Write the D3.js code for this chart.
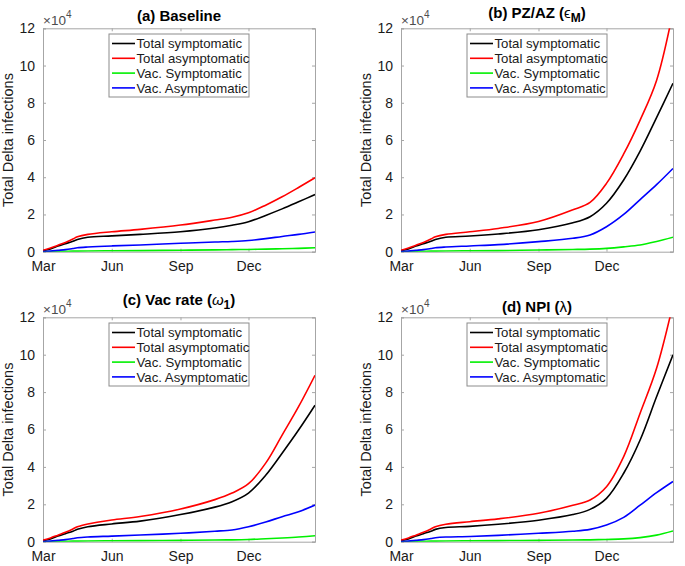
<!DOCTYPE html>
<html>
<head>
<meta charset="utf-8">
<script src="https://cdn.jsdelivr.net/npm/d3@7"></script>
<style>
  html, body { margin: 0; padding: 0; background: #fff; }
  svg { display: block; font-family: "Liberation Sans", Arial, Helvetica, sans-serif; }
</style>
</head>
<body>
<svg id="chart" width="685" height="566"></svg>
<script>
// ---------- DATA ----------
const dates = ["2021-03-01","2021-03-11","2021-03-21","2021-03-31","2021-04-10","2021-04-16",
  "2021-04-30","2021-06-01","2021-07-09","2021-09-01","2021-10-17","2021-11-09",
  "2021-12-01","2021-12-24","2022-01-15","2022-02-06","2022-02-28"];

const seriesNames = ["Total symptomatic","Total asymptomatic","Vac. Symptomatic","Vac. Asymptomatic"];
const seriesColors = ["#000000","#ff0000","#00f000","#0000ff"];

const panelTitles = ["(a) Baseline","(b) PZ/AZ","(c) Vac rate","(d) NPI"];

const xTickLabels = ["Mar","Jun","Sep","Dec"];
const xTickDates = ["2021-03-01","2021-06-01","2021-09-01","2021-12-01"];
const yTicks = [0, 20000, 40000, 60000, 80000, 100000, 120000];

// (a) Baseline
const aSym     = [500,1500,3000,4300,5600,6600,7800,8500,9300,10700,12700,14200,16100,19500,23000,26800,30700];
const aAsym    = [800,2000,3500,5000,6800,8000,9300,10700,12000,14300,17000,18500,20900,25000,29500,34500,39700];
const aVacSym  = [0,100,100,200,300,300,400,500,600,800,1000,1100,1200,1400,1600,1800,2100];
const aVacAsym = [100,300,700,1100,1700,2100,2500,3100,3600,4500,5200,5500,6000,7000,8200,9300,10600];

// (b) PZ/AZ
const bSym     = [500,1500,3000,4300,5600,6600,7800,8400,9500,11800,15500,18800,26000,38500,54000,72000,90500];
const bAsym    = [800,2000,3500,5000,6800,8000,9300,10700,12500,16200,22500,26500,36700,52500,70700,92000,129000];
const bVacSym  = [0,100,100,200,300,300,400,500,600,900,1200,1400,1800,2600,3600,5500,7800];
const bVacAsym = [100,300,700,1100,1700,2100,2500,3100,3800,5400,7200,9000,13400,20000,28000,36000,44700];

// (c) Vac rate
const cSym     = [500,1500,3000,4300,5600,6600,8000,9500,11000,14500,18500,21400,26000,35500,47300,59700,73000];
const cAsym    = [800,2000,3500,5000,6800,8000,9500,11600,13500,17500,22500,26000,31000,42000,57000,72200,89000];
const cVacSym  = [0,100,100,200,300,300,400,500,600,700,900,1000,1200,1600,2000,2500,3200];
const cVacAsym = [100,300,700,1100,1700,2100,2500,3000,3600,4500,5600,6300,8000,10500,13400,16000,19600];

// (d) NPI
const dSym     = [500,1500,3000,4300,5600,6600,7600,8200,9300,11500,14500,17300,23200,36600,54400,77500,100000];
const dAsym    = [800,2000,3500,5000,6800,8000,9300,10700,12200,15200,19500,22300,29400,45500,68700,92700,127000];
const dVacSym  = [0,100,100,200,300,300,400,500,600,700,900,1000,1200,1500,2200,3500,5700];
const dVacAsym = [100,300,700,1100,1700,2100,2500,2800,3400,4500,5600,6600,8900,13000,19500,26200,32200];

const panelData = [
  [aSym, aAsym, aVacSym, aVacAsym],
  [bSym, bAsym, bVacSym, bVacAsym],
  [cSym, cAsym, cVacSym, cVacAsym],
  [dSym, dAsym, dVacSym, dVacAsym]
];

// ---------- LAYOUT ----------
const parse = d3.timeParse("%Y-%m-%d");
const dateObjs = dates.map(parse);
const panels = [
  {left: 43,  top: 28.3,  right: 315, bottom: 251.7, titleY: 21,  expY: 25},
  {left: 401, top: 28.3,  right: 673, bottom: 251.7, titleY: 18,  expY: 25},
  {left: 43,  top: 317.3, right: 315, bottom: 541.7, titleY: 305, expY: 314.3},
  {left: 401, top: 317.3, right: 673, bottom: 541.7, titleY: 312, expY: 314.3}
];
const axisColor = "#a6a6a6";
const textColor = "#1a1a1a";

const svg = d3.select("#chart");

panels.forEach((p, i) => {
  const w = p.right - p.left, h = p.bottom - p.top;
  const x = d3.scaleTime().domain([parse("2021-03-01"), parse("2022-02-28")]).range([0, w]);
  const y = d3.scaleLinear().domain([0, 120000]).range([h, 0]);
  const g = svg.append("g").attr("transform", `translate(${p.left},${p.top})`);

  g.append("rect").attr("width", w).attr("height", h).attr("fill", "#fff");

  const clipId = "clip" + i;
  g.append("clipPath").attr("id", clipId).append("rect").attr("width", w).attr("height", h);

  // axes (ticks inward)
  const xt = xTickDates.map(parse);
  const bottomAx = d3.axisBottom(x).tickValues(xt).tickSize(-3).tickFormat((d, k) => xTickLabels[k]).tickPadding(9);
  const topAx = d3.axisTop(x).tickValues(xt).tickSize(-3).tickFormat("");
  const leftAx = d3.axisLeft(y).tickValues(yTicks).tickSize(-3).tickFormat(v => v / 10000).tickPadding(8);
  const rightAx = d3.axisRight(y).tickValues(yTicks).tickSize(-3).tickFormat("");

  [[bottomAx, `translate(0,${h})`], [topAx, "translate(0,0)"], [leftAx, "translate(0,0)"], [rightAx, `translate(${w},0)`]]
    .forEach(([ax, tr]) => {
      const a = g.append("g").attr("transform", tr).call(ax);
      a.select(".domain").attr("stroke", axisColor).attr("stroke-width", 1);
      a.selectAll(".tick line").attr("stroke", axisColor);
      a.selectAll(".tick text").attr("fill", textColor).attr("font-size", 14)
        .attr("font-family", "'Liberation Sans', Arial, sans-serif");
    });

  // lines
  const line = d3.line().x((d, k) => x(dateObjs[k])).y(d => y(d)).curve(d3.curveCatmullRom.alpha(0.5));
  const lg = g.append("g").attr("clip-path", `url(#${clipId})`);
  panelData[i].forEach((vals, s) => {
    lg.append("path").datum(vals).attr("d", line)
      .attr("fill", "none").attr("stroke", seriesColors[s]).attr("stroke-width", 1.6)
      .attr("stroke-linejoin", "round");
  });

  // legend
  const leg = g.append("g").attr("transform", "translate(66,5.7)");
  leg.append("rect").attr("width", 140).attr("height", 63).attr("fill", "#fff")
    .attr("stroke", "#8c8c8c").attr("stroke-width", 1);
  seriesNames.forEach((name, s) => {
    const yy = 9.5 + s * 14.8;
    leg.append("line").attr("x1", 3).attr("x2", 26).attr("y1", yy).attr("y2", yy)
      .attr("stroke", seriesColors[s]).attr("stroke-width", 1.6);
    leg.append("text").attr("x", 27.5).attr("y", yy).attr("dy", "0.35em")
      .attr("font-size", 13.2).attr("fill", textColor).text(name);
  });

  // y label
  svg.append("text")
    .attr("transform", `translate(${p.left - 30},${(p.top + p.bottom) / 2}) rotate(-90)`)
    .attr("text-anchor", "middle").attr("font-size", 14.5).attr("fill", textColor)
    .text("Total Delta infections");

  // exponent
  const ex = svg.append("text").attr("x", p.left).attr("y", p.expY)
    .attr("font-size", 13.5).attr("fill", "#4d4d4d");
  ex.append("tspan").text("\u00d710");
  ex.append("tspan").attr("dy", -7).attr("font-size", 10).text("4");

  // title
  const t = svg.append("text").attr("x", (p.left + p.right) / 2).attr("y", p.titleY)
    .attr("text-anchor", "middle").attr("font-size", 15).attr("font-weight", "bold").attr("fill", "#000");
  if (i === 0) {
    t.text(panelTitles[0]);
  } else if (i === 1) {
    t.append("tspan").text(panelTitles[1] + " (");
    t.append("tspan").attr("font-weight", "normal").text("\u03f5");
    t.append("tspan").attr("dy", 4).attr("font-size", 12).text("M");
    t.append("tspan").attr("dy", -4).text(")");
  } else if (i === 2) {
    t.append("tspan").text(panelTitles[2] + " (");
    t.append("tspan").attr("font-weight", "normal").attr("font-style", "italic").text("\u03c9");
    t.append("tspan").attr("dy", 4).attr("font-size", 12).text("1");
    t.append("tspan").attr("dy", -4).text(")");
  } else {
    t.append("tspan").text(panelTitles[3] + " (");
    t.append("tspan").attr("font-weight", "normal").text("\u03bb");
    t.append("tspan").text(")");
  }
});
</script>
</body>
</html>
